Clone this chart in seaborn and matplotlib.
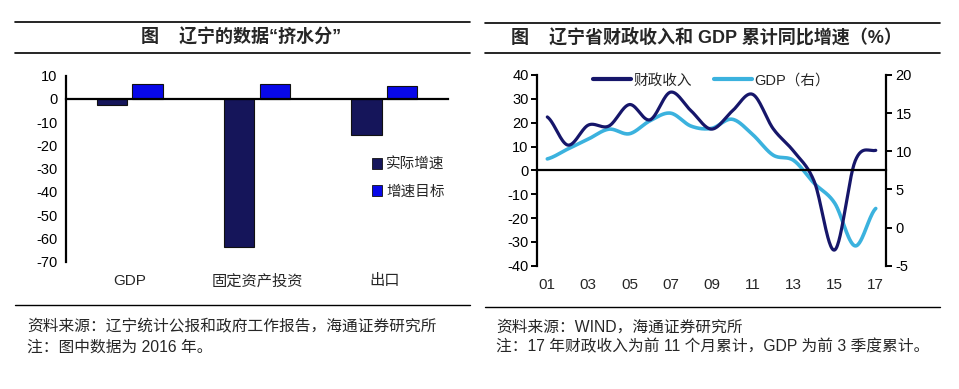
import numpy as np
import pandas as pd
import matplotlib
matplotlib.use("Agg")
import matplotlib.pyplot as plt
import seaborn as sns
from matplotlib.lines import Line2D
from matplotlib.patches import Patch

# ---------------- data ----------------
bar_categories = ["GDP", "固定资产投资", "出口"]
bar_series = ["实际增速", "增速目标"]
actual_growth = [-2.5, -63.5, -15.3]
target_growth = [6.5, 6.5, 5.5]

years = ["01", "02", "03", "04", "05", "06", "07", "08", "09",
         "10", "11", "12", "13", "14", "15", "16", "17"]
fiscal_revenue = [22.4, 10.6, 19.0, 18.6, 27.6, 21.2, 32.8, 25.0, 17.3,
                  24.8, 31.9, 17.5, 8.0, -4.6, -33.4, 4.0, 8.4]
gdp_growth = [9.0, 10.3, 11.6, 12.9, 12.3, 14.0, 15.0, 13.3, 13.0,
              14.2, 12.2, 9.5, 8.8, 5.8, 3.2, -2.4, 2.5]
line_labels = ["财政收入", "GDP（右）"]

DARK = "#15155a"
BLUE = "#0808e8"
NAVY_LINE = "#16166a"
LIGHT_LINE = "#3bb2de"

sns.set_style("white")
plt.rcParams["font.family"] = ["Liberation Sans", "Noto Sans CJK SC", "DejaVu Sans"]
plt.rcParams["axes.unicode_minus"] = False

fig = plt.figure(figsize=(9.59, 3.89), dpi=100)
fig.patch.set_facecolor("white")

# ---------------- left chart: bars ----------------
axL = fig.add_axes([0.0688, 0.3272, 0.3983, 0.4781])
df = pd.DataFrame({
    "cat": bar_categories * 2,
    "series": [bar_series[0]] * 3 + [bar_series[1]] * 3,
    "val": actual_growth + target_growth,
})
sns.barplot(data=df, x="cat", y="val", hue="series", palette=[DARK, BLUE],
            saturation=1, width=0.56, gap=0.15, edgecolor="#111111",
            linewidth=0.8, ax=axL, legend=False)
axL.set_xlim(-0.5, 2.5)
axL.set_ylim(-70, 10)
axL.set_yticks(np.arange(-70, 11, 10))
axL.set_yticklabels([str(v) for v in range(-70, 11, 10)], fontsize=10.5)
axL.set_xlabel("")
axL.set_ylabel("")
for s in ["top", "right"]:
    axL.spines[s].set_visible(False)
axL.spines["left"].set_linewidth(1.6)
axL.spines["left"].set_color("black")
axL.spines["bottom"].set_position(("data", 0))
axL.spines["bottom"].set_linewidth(1.6)
axL.spines["bottom"].set_color("black")
axL.set_xticks(np.arange(-0.5, 2.6, 1.0))
axL.set_xticklabels([])
axL.tick_params(axis="x", direction="out", length=4, width=1.4, colors="black")
axL.tick_params(axis="y", direction="out", length=4, width=1.4, colors="black", pad=2)
secL = axL.secondary_xaxis("bottom")
secL.set_xticks(range(len(bar_categories)))
secL.set_xticklabels(bar_categories, fontsize=11)
secL.tick_params(length=0, pad=9)
secL.spines["bottom"].set_visible(False)
axL.legend(handles=[Patch(facecolor=DARK, edgecolor="#111111", linewidth=0.6),
                    Patch(facecolor=BLUE, edgecolor="#111111", linewidth=0.6)],
           labels=bar_series, loc="upper left", bbox_to_anchor=(0.80, 0.56),
           frameon=False, fontsize=10.5, handlelength=0.7, handleheight=0.7,
           handletextpad=0.3, labelspacing=0.9, borderpad=0, borderaxespad=0)

# ---------------- right chart: lines ----------------
def catmull(yvals, n=30):
    y = np.asarray(yvals, dtype=float)
    xs, ys = [], []
    for i in range(len(y) - 1):
        p0 = y[i - 1] if i > 0 else y[i]
        p1, p2 = y[i], y[i + 1]
        p3 = y[i + 2] if i + 2 < len(y) else y[i + 1]
        m1 = (p2 - p0) / 2.0
        m2 = (p3 - p1) / 2.0
        t = np.linspace(0, 1, n, endpoint=False)
        h00 = 2 * t**3 - 3 * t**2 + 1
        h10 = t**3 - 2 * t**2 + t
        h01 = -2 * t**3 + 3 * t**2
        h11 = t**3 - t**2
        xs.append(i + t)
        ys.append(h00 * p1 + h10 * m1 + h01 * p2 + h11 * m2)
    xs.append(np.array([len(y) - 1.0]))
    ys.append(np.array([y[-1]]))
    return np.concatenate(xs), np.concatenate(ys)

axR = fig.add_axes([0.560, 0.3170, 0.3639, 0.4902])
axR2 = axR.twinx()
xf, yf = catmull(fiscal_revenue)
xg, yg = catmull(gdp_growth)
sns.lineplot(x=xg, y=yg, ax=axR2, color=LIGHT_LINE, linewidth=2.6, sort=False,
             solid_capstyle="round")
sns.lineplot(x=xf, y=yf, ax=axR, color=NAVY_LINE, linewidth=2.3, sort=False,
             solid_capstyle="round")
axR.set_zorder(axR2.get_zorder() + 1)
axR.patch.set_visible(False)

axR.set_xlim(-0.5, len(years) - 0.5)
axR.set_ylim(-40, 40)
axR2.set_ylim(-5, 20)
axR.set_yticks(np.arange(-40, 41, 10))
axR.set_yticklabels([str(v) for v in range(-40, 41, 10)], fontsize=10.5)
axR2.set_yticks(np.arange(-5, 21, 5))
axR2.set_yticklabels([str(v) for v in range(-5, 21, 5)], fontsize=10.5)
for a in (axR, axR2):
    a.set_xlabel("")
    a.set_ylabel("")
    a.spines["top"].set_visible(False)
axR.spines["right"].set_visible(False)
axR2.spines["left"].set_visible(False)
axR2.spines["bottom"].set_visible(False)
axR2.spines["right"].set_linewidth(1.6)
axR2.spines["right"].set_color("black")
axR.spines["left"].set_linewidth(1.6)
axR.spines["left"].set_color("black")
axR.spines["bottom"].set_position(("data", 0))
axR.spines["bottom"].set_linewidth(1.6)
axR.spines["bottom"].set_color("black")
axR.set_xticks(np.arange(-0.5, len(years), 1.0))
axR.set_xticklabels([])
axR.tick_params(axis="x", direction="out", length=4, width=1.4, colors="black")
axR.tick_params(axis="y", direction="out", length=4, width=1.4, colors="black", pad=2)
axR2.tick_params(axis="y", direction="out", length=4, width=1.4, colors="black", pad=3)
secR = axR.secondary_xaxis("bottom")
secR.set_xticks(range(0, len(years), 2))
secR.set_xticklabels(years[::2], fontsize=11)
secR.tick_params(length=0, pad=9)
secR.spines["bottom"].set_visible(False)
axR.legend(handles=[Line2D([], [], color=NAVY_LINE, linewidth=3),
                    Line2D([], [], color=LIGHT_LINE, linewidth=3)],
           labels=line_labels, loc="center", bbox_to_anchor=(0.50, 0.972),
           ncol=2, frameon=False, fontsize=10.5, handlelength=2.6,
           handletextpad=0.2, columnspacing=1.5, borderpad=0, borderaxespad=0)

# ---------------- titles, rules and notes ----------------
def hline(x0, x1, y, lw=1.2):
    fig.add_artist(Line2D([x0, x1], [y, y], transform=fig.transFigure,
                          color="black", linewidth=lw))

hline(0.0156, 0.490, 0.9434)
hline(0.0156, 0.490, 0.8638)
hline(0.5057, 0.980, 0.9409)
hline(0.5057, 0.980, 0.8638)
hline(0.0156, 0.490, 0.2159, 1.0)
hline(0.5057, 0.980, 0.2108, 1.0)

fig.text(0.251, 0.904, "图    辽宁的数据“挤水分”", ha="center", va="center",
         fontsize=13, fontweight="bold")
fig.text(0.737, 0.904, "图    辽宁省财政收入和 GDP 累计同比增速（%）", ha="center",
         va="center", fontsize=13, fontweight="bold")

fig.text(0.028, 0.1594, "资料来源：辽宁统计公报和政府工作报告，海通证券研究所",
         ha="left", va="center", fontsize=11.3)
fig.text(0.028, 0.108, "注：图中数据为 2016 年。", ha="left", va="center", fontsize=11.3)
fig.text(0.517, 0.1594, "资料来源：WIND，海通证券研究所", ha="left", va="center",
         fontsize=11.3)
fig.text(0.517, 0.108, "注：17 年财政收入为前 11 个月累计，GDP 为前 3 季度累计。",
         ha="left", va="center", fontsize=11.3)

fig.savefig("out.png", dpi=100, facecolor="white")
